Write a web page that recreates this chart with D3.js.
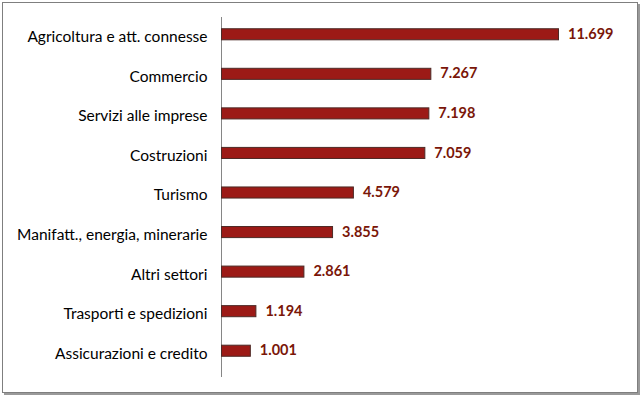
<!DOCTYPE html>
<html>
<head>
<meta charset="utf-8">
<script src="https://cdn.jsdelivr.net/npm/d3@7"></script>
<style>
  body { margin: 0; background: #fff; }
  svg { display: block; }
</style>
</head>
<body>
<svg></svg>
<script>
let categories = [
    "Agricoltura e att. connesse",
    "Commercio",
    "Servizi alle imprese",
    "Costruzioni",
    "Turismo",
    "Manifatt., energia, minerarie",
    "Altri settori",
    "Trasporti e spedizioni",
    "Assicurazioni e credito"
];
let values = [11.699, 7.267, 7.198, 7.059, 4.579, 3.855, 2.861, 1.194, 1.001];
let valueLabels = ["11.699", "7.267", "7.198", "7.059", "4.579", "3.855", "2.861", "1.194", "1.001"];

function drawChart() {
    let width = 641;
    let height = 397;
    let axisX0 = 221;
    let svg = d3.select("svg")
        .attr("width", width)
        .attr("height", height);

    svg.selectAll("*").remove();

    // рамка с тенью
    svg.append("rect")
        .attr("x", 4).attr("y", 4)
        .attr("width", 636).attr("height", 391)
        .attr("fill", "#9a9a9a");
    svg.append("rect")
        .attr("x", 2.5).attr("y", 2.5)
        .attr("width", 635).attr("height", 390)
        .attr("fill", "#fff")
        .attr("stroke", "#7f7f7f")
        .attr("stroke-width", 1);

    // шкалы
    let scaleX = d3.scaleLinear()
        .domain([0, 11.699])
        .range([axisX0, 558]);
    let scaleY = d3.scaleBand()
        .domain(categories)
        .range([14, 370])
        .paddingInner(0.72)
        .paddingOuter(0.36);

    // ось OY
    let axisY = d3.axisLeft(scaleY).tickSize(0).tickPadding(14);
    let gy = svg.append("g")
        .attr("transform", `translate(${axisX0 + 0.5}, 3.5)`)
        .call(axisY);
    gy.select(".domain").remove();
    gy.selectAll("text")
        .style("font", "15.5px Lato, 'Open Sans', sans-serif")
        .attr("fill", "#000");

    svg.append("line")
        .attr("x1", axisX0 + 0.5).attr("x2", axisX0 + 0.5)
        .attr("y1", 17).attr("y2", 377)
        .attr("stroke", "#868686");

    // столбцы
    svg.selectAll(".bar")
        .data(categories)
        .enter()
        .append("rect")
        .attr("class", "bar")
        .attr("x", scaleX(0) + 0.5)
        .attr("y", d => scaleY(d) + 0.5)
        .attr("width", (d, i) => scaleX(values[i]) - scaleX(0))
        .attr("height", scaleY.bandwidth())
        .attr("fill", "#9c1a16")
        .attr("stroke", "#4d2a26")
        .attr("stroke-width", 1);

    // подписи значений
    svg.selectAll(".val")
        .data(categories)
        .enter()
        .append("text")
        .attr("class", "val")
        .attr("x", (d, i) => scaleX(values[i]) + 10)
        .attr("y", d => scaleY(d) + scaleY.bandwidth() / 2)
        .attr("dy", "0.35em")
        .attr("fill", "#7a1608")
        .style("font", "bold 14.5px Lato, 'Open Sans', sans-serif")
        .text((d, i) => valueLabels[i]);
}

drawChart();
</script>
</body>
</html>
